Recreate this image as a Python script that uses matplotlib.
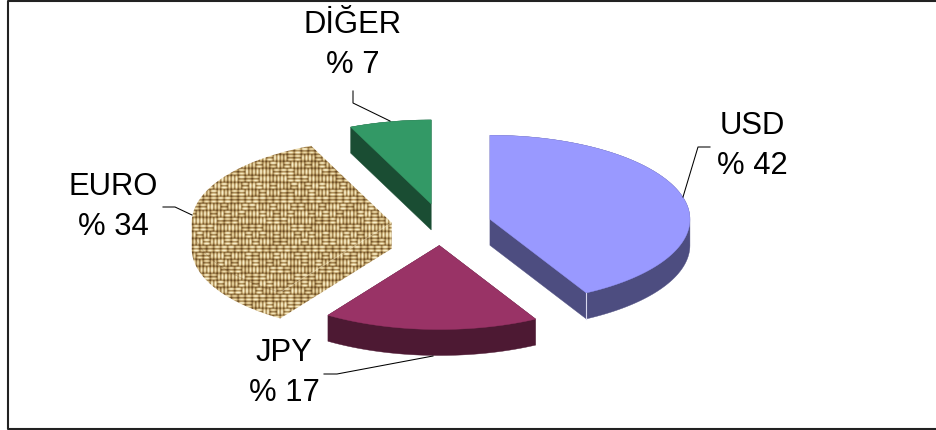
import numpy as np
import matplotlib
matplotlib.use("Agg")
import matplotlib.pyplot as plt
from matplotlib.colors import LinearSegmentedColormap
from matplotlib.patches import Polygon

# chart data
names = ["USD", "JPY", "EURO", "DİĞER"]
shares = [42.0, 17.4, 34.0, 6.6]
share_labels = ["% 42", "% 17", "% 34", "% 7"]
top_colors = ["#9999FF", "#993366", None, "#339966"]
side_colors = ["#4D4D80", "#4D1933", None, "#1A4D33"]

# pie geometry, in image pixels
CX, CY = 441.5, 224.5
RX, RY = 200, 84
DEPTH = 26
EXPLODE = 0.25

W, H = 936, 430

plt.rcParams["font.family"] = ["Liberation Sans", "DejaVu Sans"]

fig = plt.figure(figsize=(W / 100, H / 100), dpi=100)
ax = fig.add_axes([0, 0, 1, 1])
ax.set_xlim(0, W)
ax.set_ylim(H, 0)
ax.axis("off")


def slice_outline(start, end):
    # start/end in percent, clockwise from 12 o'clock
    a0, a1 = np.radians(start * 3.6), np.radians(end * 3.6)
    mid = (a0 + a1) / 2
    ox = CX + EXPLODE * RX * np.sin(mid)
    oy = CY - EXPLODE * RY * np.cos(mid)
    t = np.linspace(a0, a1, 120)
    arc = np.column_stack([ox + RX * np.sin(t), oy - RY * np.cos(t)])
    return np.array([ox, oy]), arc


def convex_hull(pts):
    pts = sorted(map(tuple, pts))

    def half(points):
        out = []
        for p in points:
            while len(out) > 1:
                a, b = out[-2], out[-1]
                if (b[0] - a[0]) * (p[1] - a[1]) - (b[1] - a[1]) * (p[0] - a[0]) > 0:
                    break
                out.pop()
            out.append(p)
        return out[:-1]

    return np.array(half(pts) + half(pts[::-1]))


def burlap_texture():
    # woven threads on a 2x pixel grid: pairs of parallel threads, direction varies
    size = 7
    block = 2
    ys, xs = np.mgrid[0:2 * H, 0:2 * W]
    j = ys // size
    row = j // block
    shift = (row * 5 % 3) * size
    i = (xs + shift) // size
    col = i // block
    direction = ((col * col * 7 + row * 13 + col * row * 5 + row * row * 3) % 7) < 3
    u = ((xs + shift) % size) / size
    v = (ys % size) / size
    across = np.where(direction, v, u)
    along = np.where(direction, (i % block + u) / block, (j % block + v) / block)
    thread = np.where(direction, j, i)
    tone = 0.78 + 0.22 * ((thread * 37 + col * 11 + row * 29) % 9) / 8
    shade = tone * np.sin(np.pi * across) ** 1.2 * np.sin(np.pi * along) ** 0.3
    # soften, the reference is a blurry bitmap
    for _ in range(3):
        shade = (shade + np.roll(shade, 1, 0) + np.roll(shade, -1, 0)
                 + np.roll(shade, 1, 1) + np.roll(shade, -1, 1)) / 5
    return shade


burlap = LinearSegmentedColormap.from_list(
    "burlap", ["#5a3c1a", "#a0804a", "#cdb077", "#e6d09a", "#fbf3d2"])

# each slice: swept wall first, then the top face
start = 0.0
edges = []
for k, share in enumerate(shares):
    end = start + share
    apex, arc = slice_outline(start, end)
    top = np.vstack([apex, arc])
    low = top + [0, DEPTH]
    outline = convex_hull(np.vstack([top, low]))
    if top_colors[k] is None:
        # EURO is filled with a picture
        clip = Polygon(outline, closed=True, transform=ax.transData, fc="none", ec="none")
        ax.add_patch(clip)
        im = ax.imshow(burlap_texture(), cmap=burlap, vmin=0.15, vmax=0.74,
                       extent=(0, W, H, 0), interpolation="bilinear", aspect="auto", zorder=2)
        im.set_clip_path(clip)
        # faint seam between the top and the wall
        seam = top[[0, 1]]
        ax.plot(seam[:, 0], seam[:, 1], color="#fbf2d2", lw=0.6, alpha=0.45, zorder=3)
        ax.plot(arc[:45, 0], arc[:45, 1], color="#5f3f1c", lw=0.6, alpha=0.25, zorder=3)
    else:
        ax.add_patch(Polygon(outline, closed=True, fc=side_colors[k], ec=side_colors[k],
                             lw=0.3, zorder=2))
        ax.add_patch(Polygon(top, closed=True, fc=top_colors[k], ec=top_colors[k],
                             lw=0.3, zorder=3))
    edges.append((apex, arc))
    start = end

# light corner on the USD wall
usd_end = edges[0][1][-1]
ax.plot([usd_end[0]] * 2, [usd_end[1], usd_end[1] + DEPTH], color="#d8d8ee", lw=0.8, zorder=4)

# labels
label_pos = [(752, 146), (284, 373), (113, 207), (353, 45)]
for name, pct, (lx, ly) in zip(names, share_labels, label_pos):
    ax.text(lx, ly, name + "\n" + pct, ha="center", va="center", ma="center",
            fontsize=22.3, color="black", linespacing=1.46, zorder=5)

# leader lines
leaders = [
    [(683, 197), (698, 147), (710, 147)],
    [(433, 356), (337, 374), (324, 374)],
    [(192, 215), (175, 207), (163, 207)],
    [(390, 121), (353, 103), (353, 91)],
]
for line in leaders:
    xy = np.array(line)
    ax.plot(xy[:, 0], xy[:, 1], color="black", lw=0.75, zorder=4)

# frame of the pasted picture, the right side is cut off
ax.plot([W, 8, 8, W], [0.7, 0.7, 428.6, 428.6], color="#222222", lw=1.5, zorder=6, clip_on=False)

fig.savefig("out.png", dpi=100)
